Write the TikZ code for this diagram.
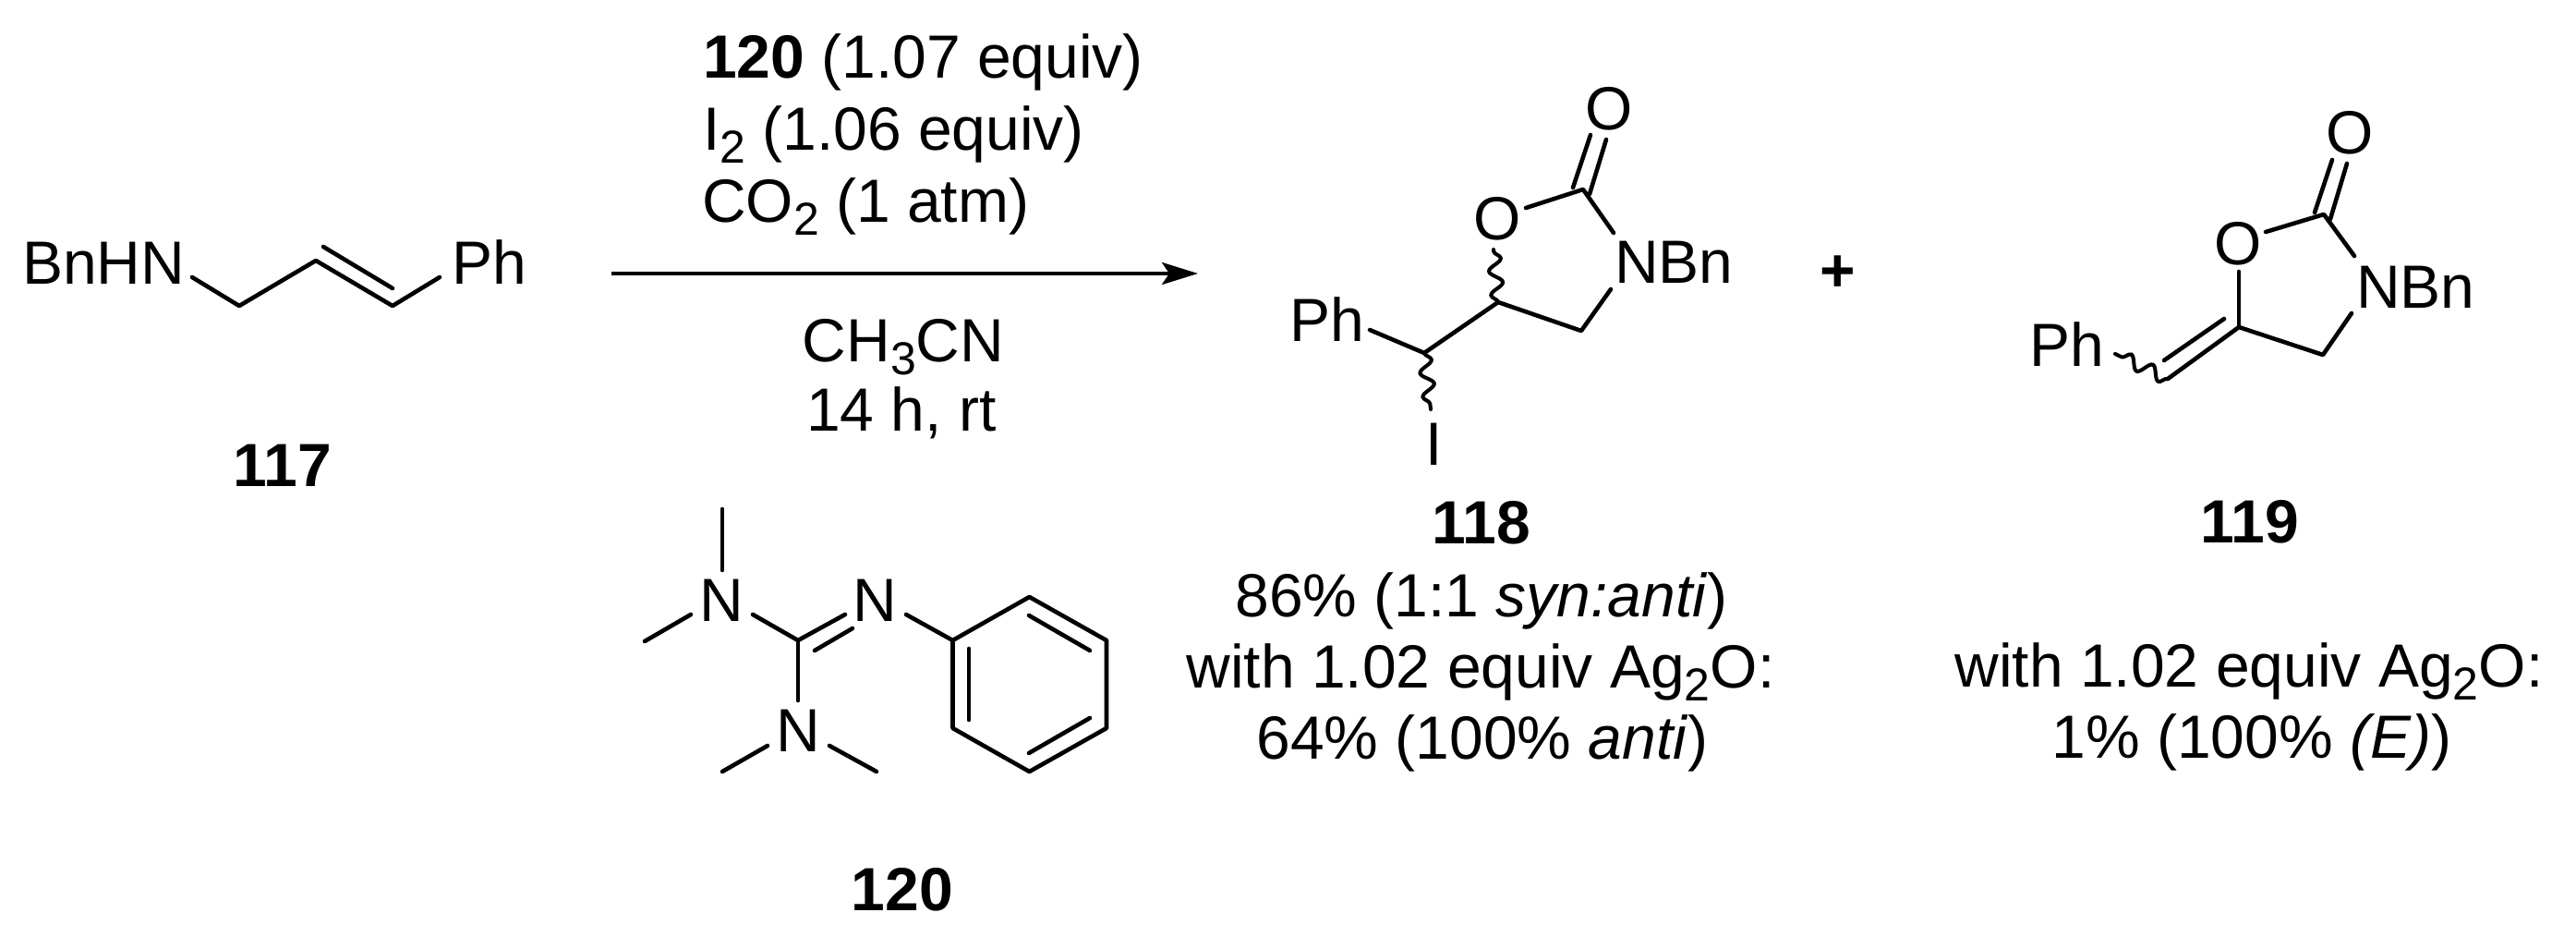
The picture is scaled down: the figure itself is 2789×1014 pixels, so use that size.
\documentclass[tikz,border=0pt]{standalone}
\usepackage{fontspec}
\setmainfont{Liberation Sans}
\usetikzlibrary{arrows.meta,decorations.pathmorphing}
\newcommand{\subdn}[1]{\raisebox{-0.22em}{\fontsize{50}{50}\selectfont #1}}
\newcommand{\txtsize}{\fontsize{66}{72}\selectfont}
\tikzset{
  txt/.style={inner sep=0pt,outer sep=0pt,anchor=base,font=\txtsize},
  txtl/.style={txt,anchor=base west},
  bld/.style={txt,font=\txtsize\bfseries},
  bnd/.style={line width=4.6pt,line cap=round,line join=round},
  wav/.style={line width=4pt,line cap=round,decorate,decoration={snake,segment length=26pt,amplitude=7pt}},
  rxn/.style={line width=4pt,-{Stealth[length=39pt,width=24pt,inset=8pt]}},
}
\begin{document}
\begin{tikzpicture}[x=1pt,y=-1pt]
\useasboundingbox (0,0) rectangle (2789,1014);
% ---------- 117
\node[txtl] (bnhn) at (24,307) {BnHN};
\node[txtl] (ph117) at (489,307) {Ph};
\node[bld] (n117) at (306,526) {117};
\coordinate (a1) at (208,300); \coordinate (a2) at (259,331); \coordinate (a3) at (342,282);
\coordinate (a4) at (425,331); \coordinate (a5) at (476,300);
\coordinate (a6) at (350,267); \coordinate (a7) at (425,312);
\draw[bnd] (a1) -- (a2) -- (a3) -- (a4) -- (a5);
\draw[bnd] (a6) -- (a7);
% ---------- conditions
\node[txtl] (c1) at (761,85) {\textbf{120} (1.07 equiv)};
\node[txtl] (c2) at (761,162) {I\subdn{2} (1.06 equiv)};
\node[txtl] (c3) at (760,240) {CO\subdn{2} (1 atm)};
\node[txt] (c4) at (978,391) {CH\subdn{3}CN};
\node[txt] (c5) at (976,466) {14 h, rt};
\coordinate (arrS) at (662,296); \coordinate (arrE) at (1297,296);
\draw[rxn] (arrS) -- (arrE);
% ---------- 118
\node[txt] (o118a) at (1742,140) {O};
\node[txt] (o118b) at (1621,259) {O};
\node[txtl] (nbn118) at (1748,306) {NBn};
\node[txtl] (ph118) at (1396,369) {Ph};
\node[txt] (i118) at (1553,503) {I};
\node[bld] (plus) at (1990,315) {+};
\coordinate (b1) at (1722,146); \coordinate (b2) at (1703,203);
\coordinate (b3) at (1739,151); \coordinate (b4) at (1721,210);
\coordinate (b5) at (1714,205); \coordinate (b6) at (1652,225);
\coordinate (b7) at (1747,252); \coordinate (b8) at (1744,313);
\coordinate (b9) at (1712,358); \coordinate (b10) at (1622,327);
\coordinate (b11) at (1542,382); \coordinate (b12) at (1483,357);
\coordinate (b13) at (1617,270); \coordinate (b14) at (1549,443);
\draw[bnd] (b1) -- (b2);
\draw[bnd] (b3) -- (b4);
\draw[bnd] (b6) -- (b5) -- (b7);
\draw[bnd] (b8) -- (b9) -- (b10) -- (b11) -- (b12);
\draw[wav] (b10) -- (b13);
\draw[wav] (b11) -- (b14);
% ---------- 119
\node[txt] (o119a) at (2544,167) {O};
\node[txt] (o119b) at (2423,286) {O};
\node[txtl] (nbn119) at (2551,333) {NBn};
\node[txtl] (ph119) at (2197,396) {Ph};
\coordinate (d1) at (2525,173); \coordinate (d2) at (2506,230);
\coordinate (d3) at (2541,177); \coordinate (d4) at (2523,237);
\coordinate (d5) at (2516,232); \coordinate (d6) at (2453,251);
\coordinate (d7) at (2549,277); \coordinate (d8) at (2546,339);
\coordinate (d9) at (2515,384); \coordinate (d10) at (2424,354);
\coordinate (d11) at (2424,294); \coordinate (d12) at (2347,410);
\coordinate (d13) at (2408,345); \coordinate (d14) at (2343,390);
\coordinate (d15) at (2290,383);
\draw[bnd] (d1) -- (d2);
\draw[bnd] (d3) -- (d4);
\draw[bnd] (d6) -- (d5) -- (d7);
\draw[bnd] (d8) -- (d9) -- (d10) -- (d12);
\draw[bnd] (d10) -- (d11);
\draw[bnd] (d13) -- (d14);
\draw[wav] (d12) -- (d15);
% ---------- 120
\node[txt] (n1) at (781,672) {N};
\node[txt] (n2) at (947,672) {N};
\node[txt] (n3) at (864,813) {N};
\node[bld] (n120) at (977,985) {120};
\coordinate (e1) at (782,551); \coordinate (e2) at (782,617);
\coordinate (e3) at (698,694); \coordinate (e4) at (748,665);
\coordinate (e5) at (815,665); \coordinate (e6) at (864,693);
\coordinate (e7) at (915,665); \coordinate (e8) at (882,704);
\coordinate (e9) at (923,680); \coordinate (e10) at (864,758);
\coordinate (e11) at (782,835); \coordinate (e12) at (831,807);
\coordinate (e13) at (898,807); \coordinate (e14) at (949,835);
\coordinate (e15) at (981,665);
\coordinate (r1) at (1031.5,693); \coordinate (r2) at (1114.5,646); \coordinate (r3) at (1198,693);
\coordinate (r4) at (1198,788); \coordinate (r5) at (1114.5,835); \coordinate (r6) at (1031.5,788);
\coordinate (i1) at (1049,702); \coordinate (i2) at (1049,779);
\coordinate (i3) at (1114,666); \coordinate (i4) at (1180,704);
\coordinate (i5) at (1180,777); \coordinate (i6) at (1114,815);
\draw[bnd] (e1) -- (e2);
\draw[bnd] (e3) -- (e4);
\draw[bnd] (e5) -- (e6) -- (e7);
\draw[bnd] (e8) -- (e9);
\draw[bnd] (e6) -- (e10);
\draw[bnd] (e11) -- (e12);
\draw[bnd] (e13) -- (e14);
\draw[bnd] (e15) -- (r1);
\draw[bnd] (r1) -- (r2) -- (r3) -- (r4) -- (r5) -- (r6) -- cycle;
\draw[bnd] (i1) -- (i2);
\draw[bnd] (i3) -- (i4);
\draw[bnd] (i5) -- (i6);
% ---------- labels
\node[bld] (n118) at (1604,588) {118};
\node[txt] (t1) at (1604,667) {86\% (1:1 \textit{syn:anti})};
\node[txt] (t2) at (1603,744) {with 1.02 equiv Ag\subdn{2}O:};
\node[txt] (t3) at (1605,821) {64\% (100\% \textit{anti})};
\node[bld] (n119) at (2436,587) {119};
\node[txt] (t4) at (2435,743) {with 1.02 equiv Ag\subdn{2}O:};
\node[txt] (t5) at (2438,820) {1\% (100\% \textit{(E)})};
\end{tikzpicture}
\end{document}
